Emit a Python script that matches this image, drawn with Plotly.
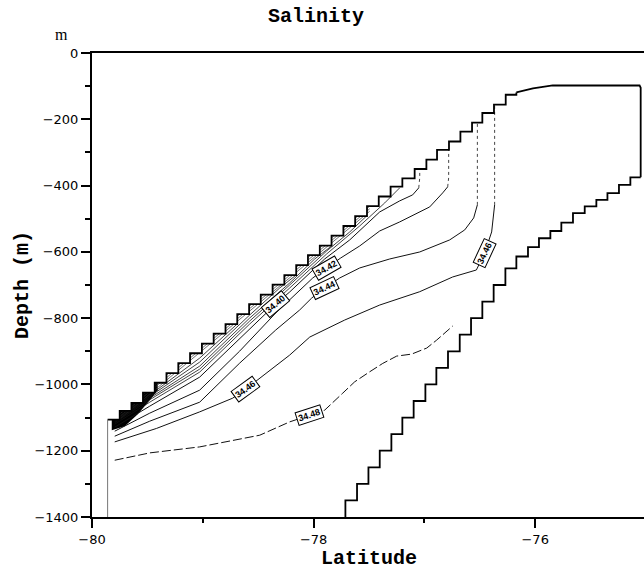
import plotly.graph_objects as go

# ---------------- data (latitude in degrees, depth in m) ----------------
# ice-shelf base: wall point then riser positions, with the level to the right of each
ice_lat = [-79.859, -79.750, -79.644, -79.540, -79.434, -79.328, -79.221, -79.115, -79.008,
           -78.902, -78.795, -78.689, -78.582, -78.477, -78.370, -78.264, -78.157, -78.051,
           -77.944, -77.838, -77.731, -77.625, -77.518, -77.412, -77.305, -77.199, -77.088,
           -76.982, -76.886, -76.778, -76.675, -76.570, -76.477, -76.372, -76.266, -76.170]
ice_dep = [-1106, -1080, -1056, -1025, -995, -966, -936, -906, -877, -847, -818, -788,
           -758, -729, -699, -670, -640, -610, -581, -551, -522, -492, -462, -433, -403,
           -378, -350, -322, -292, -267, -237, -210, -181, -156, -126, -119]
# upper ice surface / front
shelf_lat = [-76.170, -76.020, -75.842, -75.058, -75.048, -75.048]
shelf_dep = [-119, -107, -98, -98, -105, -375]
# sea floor steps
bed_lat = [-77.713, -77.608, -77.505, -77.403, -77.298, -77.199, -77.097, -76.991, -76.892,
           -76.787, -76.681, -76.579, -76.477, -76.375, -76.269, -76.170, -76.065, -75.966,
           -75.863, -75.764, -75.659, -75.553, -75.448, -75.348, -75.244, -75.141, -75.048]
bed_dep = [-1400, -1350, -1300, -1250, -1200, -1150, -1100, -1050, -1000, -950, -900, -850,
           -800, -750, -700, -650, -614, -586, -559, -537, -512, -483, -463, -443, -423,
           -398, -375]

# salinity contours
c3430_lat = [-79.795, -79.479, -79.028, -78.689]
c3430_dep = [-1106.3, -1032.3, -920.5, -817.5]
c3432_lat = [-79.795, -79.479, -79.028, -78.577, -78.306, -78.157]
c3432_dep = [-1109.4, -1037.2, -932.6, -790.6, -709.1, -669.8]
c3434_lat = [-79.795, -79.479, -79.028, -78.577, -78.216, -77.990, -77.837]
c3434_dep = [-1112.4, -1041.4, -944.7, -799.7, -694.0, -621.5, -582.2]
c3436_lat = [-79.795, -79.479, -79.028, -78.577, -78.216, -77.882, -77.674, -77.521]
c3436_dep = [-1115.4, -1046.2, -953.8, -808.8, -700.0, -597.3, -539.9, -491.5]
c3438_lat = [-79.795, -79.479, -79.028, -78.577, -78.216, -77.882, -77.584, -77.358, -77.223]
c3438_dep = [-1119.9, -1053.5, -962.8, -817.8, -709.1, -606.3, -521.8, -452.3, -406.9]
c3440_lat = [-79.795, -79.479, -79.028, -78.667, -78.468, -78.342, -78.216, -77.900, -77.674,
             -77.403, -77.223, -77.106, -77.051, -77.042, -77.042]
c3440_dep = [-1129.0, -1065.6, -977.9, -863.1, -799.7, -757.4, -721.1, -621.5, -564.0,
             -479.5, -446.2, -428.1, -406.9, -376.7, -349.5]
c3442_lat = [-79.795, -79.479, -79.028, -78.667, -78.342, -78.126, -78.008, -77.882, -77.755,
             -77.584, -77.403, -77.223, -76.952, -76.835, -76.790, -76.781, -76.781]
c3442_dep = [-1141.1, -1086.7, -1017.2, -899.4, -784.6, -718.1, -678.9, -648.6, -618.4,
             -582.2, -536.9, -509.7, -464.4, -422.1, -403.9, -376.7, -292.1]
c3444_lat = [-79.795, -79.479, -79.028, -78.667, -78.342, -78.126, -78.017, -77.900, -77.765,
             -77.584, -77.313, -77.042, -76.772, -76.636, -76.555, -76.522, -76.522]
c3444_dep = [-1156.2, -1110.9, -1053.5, -935.6, -836.0, -775.5, -739.3, -709.1, -678.9,
             -648.6, -621.5, -600.3, -564.0, -533.8, -497.6, -458.3, -210.6]
c3446_lat = [-79.795, -79.419, -79.028, -78.730, -78.613, -78.486, -78.216, -78.035, -77.719,
             -77.403, -77.042, -76.745, -76.531, -76.456, -76.393, -76.366, -76.366]
c3446_dep = [-1173.4, -1132.9, -1082.8, -1041.4, -1014.2, -981.9, -911.5, -857.1, -805.7,
             -760.4, -720.2, -675.8, -654.7, -603.3, -539.9, -458.3, -156.2]
c3448_lat = [-79.795, -79.479, -79.028, -78.486, -78.216, -78.035, -77.900, -77.737, -77.629,
             -77.494, -77.376, -77.250, -77.115, -76.979, -76.889, -76.745]
c3448_dep = [-1228.7, -1206.6, -1188.5, -1153.2, -1113.0, -1092.7, -1077.6, -1026.3, -992.1,
             -961.9, -936.6, -914.5, -908.5, -890.3, -866.2, -823.9]

# very dense (unresolved) contours just under the ice at the grounding line
dense_lat = [-79.822, -79.822, -79.705, -79.587, -79.479, -79.407, -79.407]
dense_dep = [-1047.4, -1138.1, -1126.0, -1089.7, -1047.4, -1017.2, -981.0]
hatch_lat = [-79.750, -77.494]
hatch1_dep = [-1104.5, -477.6]
hatch2_dep = [-1097.0, -470.1]
hatch3_dep = [-1089.4, -462.5]
hatch4_dep = [-1081.9, -455.0]

# contour labels
label_text = ["34.40", "34.42", "34.44", "34.46", "34.48", "34.46"]
label_lat = [-78.342, -77.882, -77.900, -78.613, -78.035, -76.456]
label_dep = [-757.4, -648.6, -709.1, -1014.2, -1092.7, -603.3]
label_angle = [-40, -30, -25, -36, -18, -65]

x_ticks = [-80, -78, -76]
x_ticktext = ["\u221280", "\u221278", "\u221276"]
x_minor = [-79, -77]
y_ticks = [0, -200, -400, -600, -800, -1000, -1200, -1400]
y_ticktext = ["0", "\u2212200", "\u2212400", "\u2212600", "\u2212800", "\u22121000",
              "\u22121200", "\u22121400"]
y_minor = [-100, -300, -500, -700, -900, -1100, -1300]

# ---------------- figure ----------------
fig = go.Figure()
INK = "#111111"

# dark patch of unresolved contours
fig.add_trace(go.Scatter(x=dense_lat, y=dense_dep, mode="lines", fill="toself",
                         fillcolor="black", line=dict(width=0), hoverinfo="skip"))
for hd in (hatch1_dep, hatch2_dep, hatch3_dep, hatch4_dep):
    fig.add_trace(go.Scatter(x=hatch_lat, y=hd, mode="lines",
                             line=dict(color="#333333", width=0.7)))

for la, de in [(c3430_lat, c3430_dep), (c3432_lat, c3432_dep), (c3434_lat, c3434_dep),
               (c3436_lat, c3436_dep), (c3438_lat, c3438_dep)]:
    fig.add_trace(go.Scatter(x=la, y=de, mode="lines", line=dict(color=INK, width=0.8)))

# labelled contours, with the dotted vertical end near the ice
for la, de, ntail in [(c3440_lat, c3440_dep, 3), (c3442_lat, c3442_dep, 3),
                      (c3444_lat, c3444_dep, 2), (c3446_lat, c3446_dep, 2)]:
    fig.add_trace(go.Scatter(x=la[:len(la) - ntail + 1], y=de[:len(de) - ntail + 1],
                             mode="lines", line=dict(color=INK, width=1)))
    fig.add_trace(go.Scatter(x=la[-ntail:], y=de[-ntail:], mode="lines",
                             line=dict(color="#444444", width=1, dash="dot")))
fig.add_trace(go.Scatter(x=c3448_lat, y=c3448_dep, mode="lines",
                         line=dict(color=INK, width=1, dash="9px,3px")))

# white mask of the ice shelf (clips contours into the step notches)
mask_x = [-80, -80]
mask_y = [0, ice_dep[0]]
for i in range(len(ice_lat)):
    if i > 0:
        mask_x.append(ice_lat[i]); mask_y.append(ice_dep[i - 1])
    mask_x.append(ice_lat[i]); mask_y.append(ice_dep[i])
mask_x += shelf_lat[1:4] + [shelf_lat[3]]
mask_y += shelf_dep[1:4] + [0]
fig.add_trace(go.Scatter(x=mask_x, y=mask_y, mode="lines", fill="toself",
                         fillcolor="white", line=dict(width=0), hoverinfo="skip"))

# boundaries
fig.add_trace(go.Scatter(x=ice_lat, y=ice_dep, mode="lines",
                         line=dict(color="black", width=1.8, shape="hv")))
fig.add_trace(go.Scatter(x=shelf_lat, y=shelf_dep, mode="lines",
                         line=dict(color="black", width=1.8)))
fig.add_trace(go.Scatter(x=bed_lat, y=bed_dep, mode="lines",
                         line=dict(color="black", width=1.8, shape="vh")))
fig.add_trace(go.Scatter(x=[ice_lat[0], ice_lat[0]], y=[ice_dep[0], y_ticks[-1]],
                         mode="lines", line=dict(color="#777777", width=1)))

annotations = []
for t, la, de, an in zip(label_text, label_lat, label_dep, label_angle):
    annotations.append(dict(x=la, y=de, xref="x", yref="y", text="<b>" + t + "</b>",
                            showarrow=False, textangle=an, bgcolor="white",
                            bordercolor="black", borderwidth=1, borderpad=1,
                            font=dict(family="Liberation Sans", size=9, color="black")))

TITLE_FONT = dict(family="Liberation Mono", size=20, color="black")
annotations += [
    dict(x=0.4058, y=1.0776, xref="paper", yref="paper", text="<b>Salinity</b>",
         showarrow=False, xanchor="center", yanchor="middle", font=TITLE_FONT),
    dict(x=-0.0553, y=1.0388, xref="paper", yref="paper", text="m", showarrow=False,
         xanchor="center", yanchor="middle",
         font=dict(family="Liberation Serif", size=16, color="black")),
    dict(x=-0.1268, y=0.5, xref="paper", yref="paper", text="<b>Depth (m)</b>",
         showarrow=False, textangle=-90, xanchor="center", yanchor="middle",
         font=TITLE_FONT),
    dict(x=0.5018, y=-0.0905, xref="paper", yref="paper", text="<b>Latitude</b>",
         showarrow=False, xanchor="center", yanchor="middle", font=TITLE_FONT),
]

TICK_FONT = dict(family="DejaVu Sans", size=13, color="black")
fig.update_layout(
    width=644, height=572, autosize=False,
    margin=dict(l=92, r=0, t=53, b=55, pad=0),
    paper_bgcolor="white", plot_bgcolor="white",
    showlegend=False,
    annotations=annotations,
    xaxis=dict(range=[-80, -75.018], tickmode="array", tickvals=x_ticks,
               ticktext=x_ticktext, ticks="outside", ticklen=9, tickwidth=1.5,
               tickcolor="black", showline=True, linewidth=2, linecolor="black",
               mirror=True, showgrid=False, zeroline=False, tickfont=TICK_FONT,
               minor=dict(tickvals=x_minor, ticks="outside", ticklen=4,
                          tickwidth=1.5, tickcolor="black", showgrid=False)),
    yaxis=dict(range=[-1400, 0], tickmode="array", tickvals=y_ticks,
               ticktext=y_ticktext, ticks="outside", ticklen=9, tickwidth=1.5,
               tickcolor="black", showline=True, linewidth=2, linecolor="black",
               mirror=False, showgrid=False, zeroline=False, tickfont=TICK_FONT,
               minor=dict(tickvals=y_minor, ticks="outside", ticklen=5,
                          tickwidth=1.5, tickcolor="black", showgrid=False)),
)

fig.write_html("out.html")
